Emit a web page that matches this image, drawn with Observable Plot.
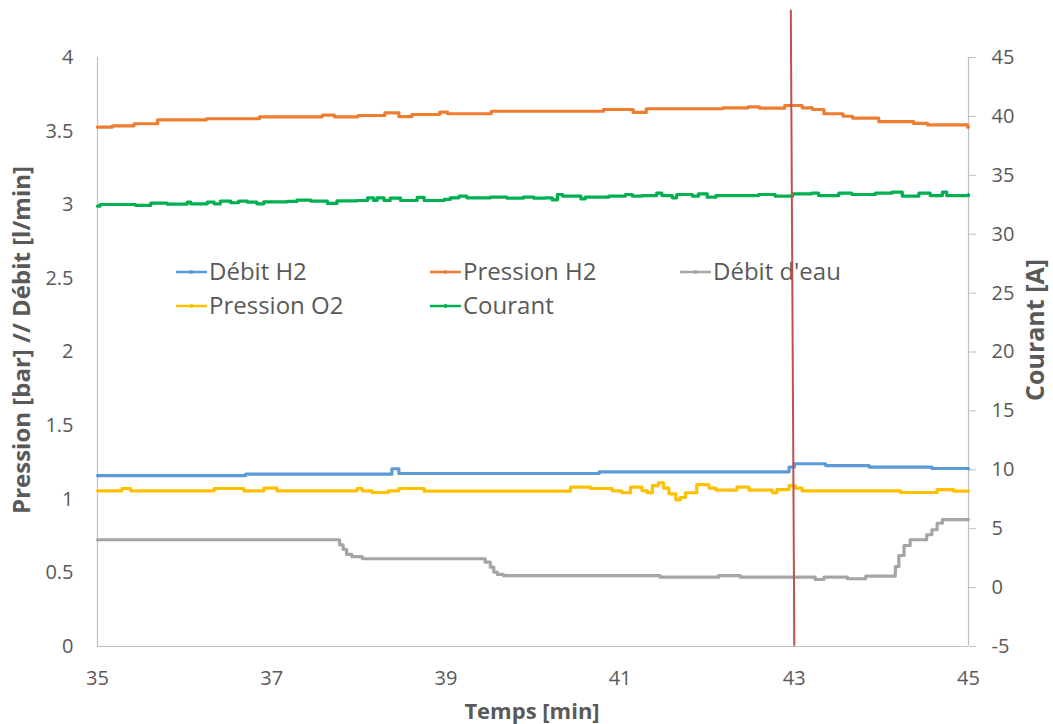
<!DOCTYPE html>
<html>
<head>
<meta charset="utf-8">
<script src="https://cdn.jsdelivr.net/npm/d3@7"></script>
<script src="https://cdn.jsdelivr.net/npm/@observablehq/plot@0.6"></script>
<style>
  html, body { margin: 0; padding: 0; background: #fff; }
  #chart { width: 1053px; height: 724px; }
</style>
</head>
<body>
<div id="chart"></div>
<script>
// Axis ticks
const timeTicks = [35, 37, 39, 41, 43, 45];                     // Temps [min]
const pressureTicks = [0, 0.5, 1, 1.5, 2, 2.5, 3, 3.5, 4];       // Pression [bar] // Débit [l/min]
const currentTicks = [-5, 0, 5, 10, 15, 20, 25, 30, 35, 40, 45];  // Courant [A]

// Débit H2 [l/min]
const debitH2T = [35.00, 36.70, 38.38, 38.46, 40.76, 42.94, 43.00, 43.36, 43.86, 44.58, 45.00];
const debitH2V = [1.161, 1.170, 1.207, 1.175, 1.186, 1.218, 1.241, 1.229, 1.218, 1.209, 1.207];

// Pression H2 [bar]
const pressionH2T = [35.00, 35.17, 35.42, 35.69, 36.25, 36.86, 37.58, 37.72, 37.99, 38.30, 38.46, 38.61, 38.93, 39.02, 39.52, 40.81,
                     41.15, 41.30, 42.18, 42.47, 42.60, 42.89, 43.09, 43.21, 43.34, 43.56, 43.67, 43.97, 44.37, 44.53, 44.99, 45.00];
const pressionH2V = [3.527, 3.536, 3.550, 3.577, 3.584, 3.597, 3.608, 3.597, 3.606, 3.624, 3.599, 3.613, 3.629, 3.618, 3.635, 3.647,
                     3.627, 3.652, 3.658, 3.665, 3.656, 3.674, 3.658, 3.647, 3.618, 3.601, 3.588, 3.565, 3.552, 3.543, 3.527, 3.527];

// Débit d'eau [l/min]
const debitEauT = [35.00, 37.78, 37.82, 37.86, 37.92, 38.04, 39.45, 39.51, 39.55, 39.59, 39.66, 41.46, 42.13, 42.38,
                   43.24, 43.34, 43.61, 43.82, 44.16, 44.20, 44.26, 44.33, 44.52, 44.58, 44.64, 44.70, 45.00];
const debitEauV = [0.725, 0.690, 0.660, 0.625, 0.611, 0.596, 0.573, 0.539, 0.505, 0.490, 0.482, 0.471, 0.482, 0.471,
                   0.455, 0.471, 0.460, 0.478, 0.543, 0.618, 0.686, 0.725, 0.759, 0.793, 0.837, 0.862, 0.862];

// Pression O2 [bar]
const pressionO2T = [35.00, 35.28, 35.38, 36.34, 36.68, 36.91, 37.06, 37.98, 38.04, 38.15, 38.34, 38.46, 38.75, 40.43,
                     40.66, 40.91, 41.02, 41.12, 41.25, 41.31, 41.37, 41.44, 41.50, 41.56, 41.64, 41.69, 41.75, 41.88,
                     42.02, 42.10, 42.34, 42.48, 42.75, 42.80, 42.94, 43.01, 43.09, 44.22, 44.64, 44.83, 45.00];
const pressionO2V = [1.057, 1.073, 1.057, 1.073, 1.057, 1.075, 1.057, 1.073, 1.057, 1.046, 1.057, 1.073, 1.055, 1.082,
                     1.073, 1.057, 1.044, 1.082, 1.059, 1.044, 1.093, 1.112, 1.076, 1.037, 0.996, 1.012, 1.044, 1.100,
                     1.076, 1.062, 1.082, 1.062, 1.044, 1.066, 1.093, 1.075, 1.057, 1.046, 1.066, 1.055, 1.055];

// Courant [A] (right axis)
const courantT = [35.00, 35.03, 35.30, 35.44, 35.61, 35.80, 36.03, 36.07, 36.26, 36.34,
                  36.41, 36.53, 36.62, 36.72, 36.83, 36.91, 37.18, 37.29, 37.45, 37.64,
                  37.75, 37.98, 38.10, 38.17, 38.21, 38.29, 38.36, 38.48, 38.67, 38.75,
                  38.98, 39.05, 39.15, 39.24, 39.51, 39.70, 39.89, 40.01, 40.14, 40.22,
                  40.28, 40.34, 40.55, 40.60, 40.87, 41.06, 41.14, 41.25, 41.42, 41.48,
                  41.60, 41.65, 41.83, 41.90, 42.00, 42.10, 42.59, 42.78, 42.98, 43.20,
                  43.28, 43.51, 43.66, 43.93, 44.12, 44.24, 44.43, 44.56, 44.70, 44.75, 45.00];
const courantA = [32.38, 32.52, 32.52, 32.44, 32.63, 32.55, 32.72, 32.58, 32.72, 32.58,
                  32.80, 32.67, 32.80, 32.72, 32.58, 32.75, 32.78, 32.89, 32.80, 32.61,
                  32.83, 32.86, 33.09, 32.86, 33.09, 32.86, 33.06, 32.86, 33.12, 32.86,
                  32.95, 33.09, 33.23, 33.09, 33.14, 33.06, 33.14, 33.06, 33.09, 32.92,
                  33.37, 33.23, 33.00, 33.14, 33.23, 33.37, 33.23, 33.28, 33.48, 33.28,
                  33.09, 33.37, 33.23, 33.43, 33.14, 33.28, 33.37, 33.23, 33.43, 33.48,
                  33.28, 33.48, 33.37, 33.48, 33.57, 33.23, 33.48, 33.28, 33.57, 33.28, 33.37];

// Vertical marker at t = 43 min
const markerT = [42.96, 43.00];
const markerV = [4.32, 0.01];

const seriesNames = ["Débit H2", "Pression H2", "Débit d'eau", "Pression O2", "Courant"];
const seriesColors = ["#5b9bd5", "#ed7d31", "#a5a5a5", "#ffc000", "#00b050"];
const textColor = "#595959";
const axisColor = "#bfbfbf";

// Right axis (current) mapped onto the left scale: -5 A -> 0, 45 A -> 4
const currentToLeft = a => (a + 5) / 12.5;
const leftToCurrent = v => Math.round(v * 12.5 - 5);

const toRows = (ts, vs, series, f = v => v) => ts.map((t, i) => ({t, v: f(vs[i]), series}));
const rows = [
  ...toRows(debitH2T, debitH2V, "Débit H2"),
  ...toRows(pressionH2T, pressionH2V, "Pression H2"),
  ...toRows(debitEauT, debitEauV, "Débit d'eau"),
  ...toRows(pressionO2T, pressionO2V, "Pression O2"),
  ...toRows(courantT, courantA, "Courant", currentToLeft)
];
const markerRows = markerT.map((t, i) => ({t, v: markerV[i]}));

const svg = Plot.plot({
  width: 1053,
  height: 724,
  marginLeft: 97,
  marginRight: 85,
  marginTop: 57,
  marginBottom: 78,
  style: {fontFamily: "'Open Sans', sans-serif", fontSize: "20px", color: textColor, background: "#fff", overflow: "visible"},
  x: {domain: [35, 45]},
  y: {domain: [0, 4]},
  color: {domain: seriesNames, range: seriesColors},
  marks: [
    Plot.ruleX([35, 45], {stroke: axisColor, strokeWidth: 1.2}),
    Plot.ruleY([0], {stroke: axisColor, strokeWidth: 1.2}),
    Plot.axisX({ticks: timeTicks, tickSize: 0, tickPadding: 24, label: null, fill: textColor, tickFormat: d => String(d)}),
    Plot.axisY({ticks: pressureTicks, tickSize: 0, tickPadding: 24, label: null, fill: textColor, tickFormat: d => String(d)}),
    Plot.axisY({anchor: "right", ticks: currentTicks.map(currentToLeft), tickFormat: leftToCurrent,
                tickSize: 7, tickPadding: 16, label: null, stroke: axisColor, fill: textColor}),
    Plot.line(rows, {x: "t", y: "v", z: "series", stroke: "series", strokeWidth: 3.2, curve: "step-after"}),
    Plot.line(markerRows, {x: "t", y: "v", stroke: "#c0504d", strokeWidth: 2})
  ]
});

document.getElementById("chart").appendChild(svg);

const root = d3.select(svg);

// Axis titles
const title = (text, x, y, rotate, size) =>
  root.append("text")
    .attr("transform", `translate(${x},${y})` + (rotate ? " rotate(-90)" : ""))
    .attr("text-anchor", "middle")
    .attr("dy", "0.35em")
    .attr("fill", textColor)
    .style("font-family", "'Open Sans', sans-serif")
    .style("font-size", size)
    .style("font-weight", "700")
    .text(text);
title("Temps [min]", 532, 711, false, "22px");
title("Pression [bar] // Débit [l/min]", 22, 340, true, "24px");
title("Courant [A]", 1035, 330, true, "25px");

// Legend, drawn inside the frame beneath the vertical marker
const lineGroups = svg.querySelectorAll('g[aria-label="line"]');
const markerGroup = lineGroups[lineGroups.length - 1];
const legend = root.insert("g", () => markerGroup);
const legendItems = [
  {name: "Débit H2", x: 176, y: 272},
  {name: "Pression H2", x: 430, y: 272},
  {name: "Débit d'eau", x: 680, y: 272},
  {name: "Pression O2", x: 176, y: 306},
  {name: "Courant", x: 430, y: 306}
];
legendItems.forEach(item => {
  const color = seriesColors[seriesNames.indexOf(item.name)];
  const g = legend.append("g");
  g.append("line").attr("x1", item.x).attr("x2", item.x + 31).attr("y1", item.y).attr("y2", item.y)
    .attr("stroke", color).attr("stroke-width", 2.5);
  g.append("circle").attr("cx", item.x + 15.5).attr("cy", item.y).attr("r", 2).attr("fill", color);
  g.append("text").attr("x", item.x + 33).attr("y", item.y).attr("dy", "0.35em")
    .attr("text-anchor", "start")
    .attr("fill", textColor)
    .style("font-family", "'Open Sans', sans-serif")
    .style("font-size", "24px")
    .text(item.name);
});
</script>
</body>
</html>
